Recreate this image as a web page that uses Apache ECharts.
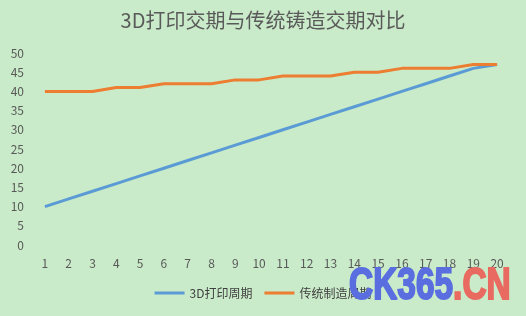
<!DOCTYPE html>
<html><head><meta charset="utf-8">
<script src="https://cdn.jsdelivr.net/npm/echarts@6/dist/echarts.min.js"></script>
<style>html,body{margin:0;padding:0;background:#c9ebc9;}#c{width:526px;height:316px;}</style>
</head><body><div id="c"></div>
<script>
var categories = ['1','2','3','4','5','6','7','8','9','10','11','12','13','14','15','16','17','18','19','20'];
var printDays = [10,12,14,16,18,20,22,24,26,28,30,32,34,36,38,40,42,44,46,47];
var castDays = [40,40,40,41,41,42,42,42,43,43,44,44,44,45,45,46,46,46,47,47];
var seriesNames = ['3D打印周期','传统制造周期'];
var titleText = '3D打印交期与传统铸造交期对比';
var font = '"Noto Sans CJK SC", sans-serif';
var chart = echarts.init(document.getElementById('c'));
chart.setOption({
  backgroundColor: '#c9ebc9',
  animation: false,
  title: { text: titleText, left: 'center', top: 5, textStyle: { fontFamily: font, fontSize: 20, fontWeight: 'normal', color: '#5a5a5a' } },
  grid: { left: 33, right: 17, top: 53, bottom: 71 },
  xAxis: { type: 'category', data: categories, boundaryGap: true,
    axisLine: { show: false }, axisTick: { show: false },
    axisLabel: { color: '#595959', fontFamily: font, fontSize: 12, margin: 12 } },
  yAxis: { type: 'value', min: 0, max: 50, interval: 5,
    splitLine: { show: false }, axisLine: { show: false }, axisTick: { show: false },
    axisLabel: { color: '#595959', fontFamily: font, fontSize: 12, margin: 9 } },
  legend: { bottom: 12, left: 'center', itemWidth: 30, itemHeight: 3, itemGap: 12,
    icon: 'rect',
    textStyle: { fontFamily: font, fontSize: 12, color: '#404040' },
    data: seriesNames },
  series: [
    { name: seriesNames[0], type: 'line', data: printDays, showSymbol: false, symbol: 'none',
      lineStyle: { color: '#5b9bd5', width: 3 }, itemStyle: { color: '#5b9bd5' } },
    { name: seriesNames[1], type: 'line', data: castDays, showSymbol: false, symbol: 'none',
      lineStyle: { color: '#ed7d31', width: 3 }, itemStyle: { color: '#ed7d31' } }
  ],
  graphic: [
    { type: 'text', x: 349, y: 287, scaleX: 0.76, z: 100,
      style: { text: '{a|CK365}{b|.CN}', verticalAlign: 'middle',
        rich: {
          a: { fill: '#5a6ee0', stroke: '#5a6ee0', lineWidth: 2, font: 'bold 44px "Liberation Sans", sans-serif' },
          b: { fill: '#e86a60', stroke: '#e86a60', lineWidth: 2, font: 'bold 44px "Liberation Sans", sans-serif' }
        } } }
  ]
});
</script></body></html>
